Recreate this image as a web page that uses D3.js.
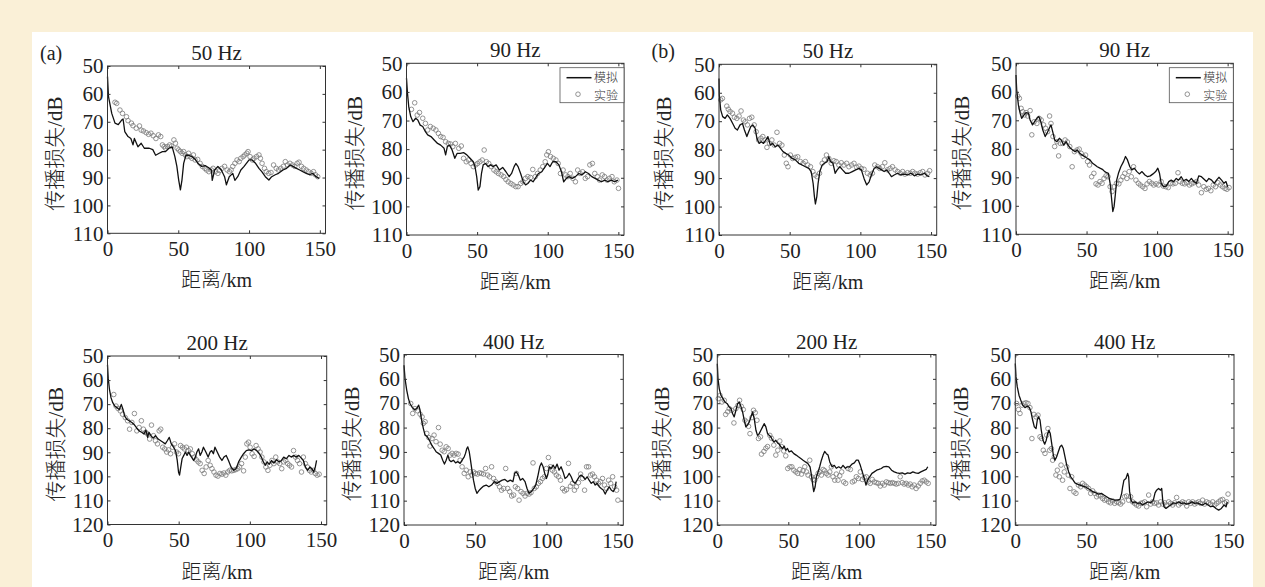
<!DOCTYPE html>
<html>
<head>
<meta charset="utf-8">
<script src="https://cdn.jsdelivr.net/npm/d3@7"></script>
<style>
  body { margin: 0; background: #faf0d7; }
  svg { display: block; }
</style>
</head>
<body>
<svg id="chart" width="1265" height="587"></svg>
<script>
// tick labels
const xTicks = [0, 50, 100, 150];
const yTicksTop = [50, 60, 70, 80, 90, 100, 110];
const yTicksBottom = [50, 60, 70, 80, 90, 100, 110, 120];
const legendNames = ["模拟", "实验"];

// (a) 50 Hz  [distance km, loss dB]
const simA50 = [[0,53.8],[0.7,61],[3,67],[5.3,70.5],[7.6,71],[10,69.4],[11,69],[12.2,73.5],[14.5,75.3],[16.5,76],[18,78.3],[19,76],[21.5,79],[23.8,77.7],[26,79.5],[29.5,79.5],[32,80],[34,82],[36.5,81.3],[38.8,80.7],[41,80.7],[43.4,79.5],[45.7,79],[47.6,82.5],[49,86],[50.3,90.9],[51.5,94.4],[52.6,90.9],[53.8,84.9],[55.4,82],[57.3,82],[59.6,82.5],[62,83.5],[64,85],[66.5,86],[69,85.7],[71.5,86.5],[73.4,87.3],[74,91],[75.7,87.3],[78,86],[80.4,87.3],[82.7,89.7],[84,92.6],[86,89.7],[88.5,88.5],[90,91],[92,89.7],[94.2,87.3],[96.5,86],[100,83.7],[102,83.7],[104.6,84.9],[107,86.7],[109,87.9],[111.5,89.7],[114,90.9],[116,89.7],[118.5,89],[120.8,88.5],[124,87.3],[126.5,86.7],[129,85.5],[131,86],[133.5,86.7],[135.8,87.3],[138,87.9],[140.4,88.5],[142.7,89],[145,88.5],[147.3,89.7],[149.5,90.3]];
const expA50 = [[5.3,63],[6.5,63.4],[8.8,65.8],[10.6,67],[13.4,68.2],[14.5,69.6],[16.9,70.5],[18,71.4],[20.3,72.3],[22.6,71.5],[23.8,73],[25.4,73.3],[27.3,73.9],[29,74.5],[30.7,74.1],[32.3,75],[34.2,76],[36,74.7],[37.6,75.3],[38.8,78.3],[40,78.9],[41,79.5],[42.3,78.9],[43.9,78.3],[45.3,78.7],[46.9,76.5],[48,77.7],[49.2,79.5],[50.3,80.1],[51.5,80.7],[52.7,81.3],[53.8,80.7],[55,81.9],[56.1,82.5],[57.3,81.3],[58.4,82.5],[59.6,83.1],[60.7,81.9],[61.9,83.7],[63.7,83.5],[65.4,84.9],[67,86],[68.8,86.7],[70,87.3],[71.6,87.9],[73.4,87.3],[74.6,86.7],[76.2,87.9],[78,88.5],[79.2,87.5],[80.8,86.7],[82.7,86],[84.5,87.3],[86.1,87.9],[87.3,87.3],[88.5,86],[90,84.9],[91.5,83.7],[93,84.3],[94.2,83.1],[95.8,82.5],[97,81.9],[98.4,81.3],[99.3,80.7],[100.7,82.5],[102.4,83.7],[103.5,83.1],[105.3,82.5],[107,81.9],[108,83.1],[109.2,84.9],[110.9,86.7],[112.2,87.9],[113.9,88.5],[115.5,88.2],[117.3,85.5],[119.2,86.7],[120.8,87.3],[122.4,86.7],[124.2,86],[125.6,84.3],[127.2,85.5],[128.9,84.9],[130.7,85.5],[132.3,86],[134,84.9],[135.3,84.5],[137,86],[138.6,86.7],[140.4,87.3],[142,87.9],[143.9,88.5],[145.5,87.9],[146.9,89],[148.5,89.7]];

// (a) 90 Hz
const simA90 = [[0,55.2],[0.7,60.5],[1.6,65.2],[3,68.6],[4.6,70.4],[6.5,69.2],[8,69.8],[9.7,71.6],[11.5,72.1],[13.4,73.9],[15,75],[17.3,75.6],[19.6,76.8],[22,78],[24.2,78.6],[26.6,79.7],[27.7,82],[28.9,79.1],[30.5,78.6],[32.3,80.3],[34.2,83.2],[35.8,81.5],[38,81.5],[40.4,81.2],[42.7,82],[45,83.2],[47.3,84.4],[48.5,86.1],[49.7,89.6],[50.8,94.3],[52,93.1],[53.1,88.5],[54.3,85.5],[55.9,85],[57.7,86.1],[59.6,85.5],[61.2,86.1],[63.5,85.5],[65.8,87.3],[68.1,86.4],[70.4,87.9],[72.7,89.6],[74.4,88.5],[76.2,86.1],[77.4,85],[79,86.1],[80.8,88.5],[82.7,91.4],[84.3,92.5],[85.9,92],[87.8,90.8],[89.6,91.4],[91.2,90.2],[93.5,88.5],[95.8,87.9],[98.2,86.1],[99.8,85],[101.6,86.1],[103.5,84.4],[105.8,84.4],[107.9,85.5],[109.7,87.9],[111.3,91.4],[113.2,90.2],[115,89.6],[117.3,90.2],[119.6,89.6],[122,88.5],[124.2,89],[126.6,87.9],[128.9,88.5],[131.2,89.6],[133.5,90.2],[135.8,90.8],[138.1,91.4],[140.4,90.8],[142.7,91.4],[145,90.8],[147.3,91.4],[149.7,90.8]];
const expA90 = [[3.5,66.1],[5.8,63.8],[7.6,68.1],[9.2,67.2],[11.5,69.2],[13.4,71],[15,73.3],[16.9,72.1],[18.9,72.7],[20.8,73.3],[22.6,74.5],[24.2,75.6],[25.9,75.9],[27.7,77.4],[29.6,78],[31.2,78.2],[32.8,79.1],[34.6,78],[37,79.7],[38.8,78.9],[40.4,83.2],[42.3,84.4],[43.9,83.8],[45.7,85],[47.3,86.1],[49,85.5],[50.3,85],[52,84.4],[53.6,83.8],[55,80.3],[56.6,84.4],[58.2,85],[60,86.1],[61.9,87.3],[63.5,87.9],[65.1,88.5],[67,89],[68.8,89.6],[70.4,90.6],[72,91.4],[73.9,92],[75.5,92.5],[77.4,93.1],[79,93.1],[80.8,92],[82.4,91.4],[84.3,90.2],[85.9,89.6],[87.8,89.9],[89.4,87.1],[91.2,89.6],[92.8,88.5],[94.7,87.3],[96.5,86.1],[98.2,84.4],[99.3,82],[100.5,80.9],[102,82.6],[103.9,83.2],[105.8,83.8],[107.4,85],[109,88.5],[110.9,87.3],[112.7,89],[114.3,89.6],[115.9,88.5],[117.8,90.2],[119.6,91.4],[121.2,87.3],[122.9,88.5],[124.7,87.9],[126.6,90.2],[128.2,89.6],[129.8,85.5],[131.6,85],[133.3,88.5],[135.1,89.6],[136.7,90.8],[138.6,89],[140.2,89.6],[142,90.8],[143.6,90.2],[145.5,89.6],[147.1,91.4],[149,90.8],[150.1,93.7]];

// (b) 50 Hz
const simB50 = [[0,55],[0.2,60.8],[1.2,66],[2.6,68.4],[4.3,69],[5.9,67.8],[7.8,69],[9.7,70.8],[11.4,72.5],[13,73.1],[14.9,71.3],[16.6,70.8],[18,73.1],[19.7,75.4],[21,73.7],[22.5,71.9],[23.9,71.3],[25.6,72.5],[26.8,76],[28.4,77.8],[29.9,77.2],[31.5,77.8],[33.2,76.6],[34.6,75.4],[36.3,78.4],[37.9,77.8],[39.8,79],[41.7,78.4],[43.4,79.5],[45.3,80.7],[47.2,81.3],[49.3,81.9],[51.7,83.1],[54,83.6],[56.4,84.8],[58.8,85.4],[61.1,86],[63.5,86.6],[65.2,87.7],[66.6,91.9],[67.5,96.5],[68.2,99.1],[69.2,96.5],[70.1,91.9],[71.3,87.7],[73,85.4],[74.6,84.8],[76.5,84.2],[77.7,82.5],[78.9,84.2],[80.6,84.8],[82.2,88.3],[83.6,87.1],[85.5,86],[87.4,87.1],[89.6,88.3],[91.9,88.3],[94.3,87.7],[96.7,87.1],[99,86.6],[100.7,87.1],[102.6,90.1],[104.5,92.4],[106.2,91.3],[107.8,88.9],[109.7,86.6],[111.6,86],[113.3,86.6],[115,87.1],[116.8,87.7],[118.7,87.1],[120.4,88.3],[122,89.5],[123.9,88.9],[126.3,88.3],[128.7,88.9],[131,88.6],[133.4,88.9],[135.8,88.3],[138.2,89.2],[140.5,88.6],[142.9,88.9],[145.3,88.3],[147.2,89.2],[148.8,89.5]];
const expB50 = [[1.2,62.5],[2.4,62],[5.5,64.7],[6.6,65.8],[7.8,66.6],[9.5,67.2],[10.9,68.6],[12.6,69],[14.2,68.2],[15.6,66.4],[17.3,69.6],[18.5,70.2],[20.1,71.3],[21.6,69],[23.2,68.6],[24.9,71.3],[26.3,73.7],[28,76.6],[29.6,76],[31,75.4],[32.7,76.6],[33.9,79.2],[35.8,77.8],[37.4,76.6],[39.1,78.4],[41,73.9],[42.9,77.8],[44.5,78.4],[46.2,81.9],[47.6,84.8],[48.8,86],[50.5,81.9],[52.1,83.1],[54,82.7],[55.7,82.5],[57.6,84.2],[59.5,84.8],[61.1,84.2],[62.8,85.4],[64.7,86],[66.4,87.7],[67.8,88.9],[69.4,89.5],[71.1,88.3],[73,84.8],[74.6,83.6],[76,81.9],[77.7,83.1],[79.4,84.8],[81.3,83.9],[82.9,84.2],[84.8,85.4],[86.5,84.6],[88.4,85.4],[90.3,84.8],[91.9,86],[93.8,85.4],[95.5,84.8],[97.4,86.2],[99,85.8],[100.7,86.6],[102.6,86.9],[105,88.3],[106.9,88.9],[108.5,88.3],[110.2,85.4],[112.1,86],[113.7,86.6],[115.6,86],[117.3,84.6],[119.2,87.1],[121,86.6],[122.7,86],[124.6,87.1],[126.3,87.7],[128.2,88.3],[129.9,87.7],[131.5,88.6],[133.4,88.1],[135.3,88.3],[137,87.7],[138.6,88.3],[140.5,88.6],[142.4,88.1],[144.1,87.7],[145.7,88.9],[147.6,88.3],[149,87.4]];

// (b) 90 Hz
const simB90 = [[0,54.1],[0.5,59.4],[1.7,64.6],[2.9,67.5],[4,69.3],[5.7,68.1],[7.1,67.3],[8.8,67.5],[10,69.9],[11.7,71.6],[13.1,70.5],[14.8,69.3],[16.2,68.7],[17.6,70.5],[19,73.4],[20.7,75.7],[21.9,74.6],[23.6,72.8],[24.8,71.6],[26,74],[27.4,76.9],[29,77.5],[30.7,76.3],[32.1,76.9],[33.8,78.7],[35.5,77.5],[36.9,78.7],[38.6,79.8],[40.2,80.4],[41.9,81],[43.3,80.4],[45.2,81.6],[46.9,82.2],[48.6,82.7],[50.5,83.3],[52.4,83.9],[54.3,85.1],[56,85.7],[57.6,86.3],[59.5,86.8],[61.2,87.2],[62.9,88],[64.3,88.4],[65.5,88.6],[66.7,92.1],[67.6,96.8],[68.6,102],[69.5,100.3],[70.5,95.6],[71.4,90.9],[72.6,88.6],[74.3,86.3],[76.2,84.5],[77.6,82.7],[79,83.9],[80.7,86.3],[82.1,87.4],[83.8,86.8],[85.7,88],[87.4,88.8],[89.3,88],[91.4,89.2],[93.3,89.8],[95.2,89.5],[97.1,88.8],[99,88],[100.5,86.8],[101.7,88.6],[102.9,92.1],[104.5,93.3],[106.4,93.1],[108.3,91.5],[110,91],[111.7,91.5],[113.6,90.4],[115.2,91],[117.1,89.8],[118.8,91.2],[120.7,90.7],[122.4,91.5],[124.3,90.4],[126,91.5],[127.9,92.1],[129.5,89.5],[131.4,89.8],[133.3,90.7],[135,91.5],[136.7,90.4],[138.6,91],[140.5,92.1],[142.1,91],[143.8,90],[145.7,91],[147.4,92.1],[148.8,91.5],[150,93.3]];
const expB90 = [[1.2,61.5],[2.4,62.3],[3.6,65.8],[4.8,67],[6,68.1],[7.1,67.3],[8.3,68.5],[10,66.6],[11.2,75.1],[12.9,70.5],[14.8,71.1],[16.4,69.3],[17.9,69.9],[19.5,71.6],[21,72.8],[22.4,74],[23.8,68.5],[24.8,71.1],[26.2,75.7],[27.4,79.2],[29,77.5],[30.2,82.5],[31.4,78.1],[33.1,78.1],[34.8,76.9],[36.4,77.6],[38.1,79.2],[39.8,86.3],[41.4,81],[43.3,80.4],[44.8,80.1],[46.2,81.6],[47.6,82.7],[49.3,82.2],[50.7,84.5],[52.1,85.7],[53.6,89.8],[55.2,88.6],[56.7,92.3],[58.1,92.7],[59.5,91.5],[61,92.1],[62.4,90.4],[63.8,89.5],[65.2,89.8],[66.7,93.3],[68.1,95],[69.5,93.3],[71.2,92.1],[72.9,92.3],[74.3,91],[75.7,89.8],[77.1,88.6],[78.6,90.4],[80.2,88],[81.7,89.8],[83.3,86.3],[85,91],[86.7,92.1],[88.1,92.7],[89.8,93.3],[91.4,93.9],[92.9,92.3],[94.5,91.5],[96.2,92.1],[97.6,92.7],[99.3,92.3],[101,92.7],[102.9,91.5],[104.5,93.1],[106.2,93.3],[107.9,93.6],[109.5,92.1],[111.2,92.3],[112.9,92.1],[114.8,88.4],[116.2,91.5],[117.9,92.1],[119.5,92.3],[121.2,91.9],[122.9,92.7],[124.5,92.3],[126.2,91.9],[127.9,91.5],[129.5,92.7],[131.4,95.4],[133.1,93.3],[134.8,94.2],[136.4,93.9],[138.1,94.7],[139.8,92.7],[141.4,93.3],[143.1,91.9],[144.8,92.7],[146.4,93.3],[148.1,93.9],[149.5,94.2],[151,93.6]];

// (a) 200 Hz
const simA200 = [[0,53.7],[0.5,59.2],[1.4,64],[2.5,67.4],[3.7,69.4],[5.1,70.8],[6.7,71.5],[8.3,72.2],[9.7,70.1],[10.9,72.2],[12,74.9],[13.6,76.3],[15.2,76.9],[17.1,77.6],[18.9,78.6],[20.6,80],[22.2,81.1],[24,81.7],[25.6,82.4],[27,80.8],[28.2,83.8],[29.1,81.7],[30.5,83.1],[32.1,84.1],[33.7,83.1],[35.6,84.5],[37.4,85.2],[39,85.8],[40.6,86.5],[42,85.2],[43.4,83.8],[44.8,86.5],[46.4,87.9],[47.8,89.3],[49,93.4],[49.9,98.2],[50.6,99.5],[51.5,96.1],[52.4,92.7],[53.6,91.3],[54.7,89.9],[55.9,91.3],[57,89.9],[58.2,91.3],[59.4,92.3],[60.5,93.4],[61.7,92],[62.8,89.9],[64,88.6],[65.1,91.3],[66.3,89.9],[67.4,87.9],[69.1,89.9],[70.7,92],[72.1,89.9],[73.2,89.3],[74.4,90.6],[75.5,87.9],[77.1,89.9],[78.8,92],[80.4,93.4],[81.8,92],[83.4,91.3],[85,93.4],[86.8,96.1],[88.7,97.5],[90.3,96.8],[92.1,94],[94,92],[95.6,90.6],[97.5,89.3],[99.3,89],[101.2,89.3],[103,88.6],[104.8,89.3],[106.5,90.4],[108.1,92],[109.5,94],[110.9,95.4],[112.2,94],[113.6,95],[115.2,93.4],[116.9,94.5],[118.7,93.1],[120.6,94],[122.2,93.4],[123.8,92],[125.6,92.7],[127.5,91.3],[129.1,92],[130.9,91.3],[132.6,92],[134.4,91.3],[136,92.3],[137.6,93.4],[139,96.1],[140.6,97.5],[142.3,96.1],[143.6,96.8],[144.8,98.2],[146,96.1],[146.9,93.4]];
const expA200 = [[4.4,66],[6,70.8],[7.4,71.8],[9,72.8],[10.6,74.2],[12.5,75.6],[14.1,76.9],[15.5,80.4],[17.1,77.6],[18.9,73.9],[20.6,81.1],[22.2,79.7],[23.8,76.9],[25.2,80.4],[26.8,81.7],[28.2,82.4],[29.6,84.5],[30.9,78.7],[32.3,83.1],[33.7,85.2],[35.1,86.5],[36.3,81.1],[37.4,80.4],[38.8,87.9],[40.2,88.6],[41.6,89.9],[42.9,89],[44.3,90.6],[45.7,87.9],[47.1,86.5],[48.5,89.9],[49.9,90.6],[51.3,87.2],[52.7,87.9],[54,88.6],[55.4,87.9],[56.8,89.3],[58.2,88.6],[59.6,90.6],[61,92],[62.4,93.1],[63.7,94],[65.1,94.7],[66.5,97.5],[67.9,98.8],[69.3,96.1],[70.7,93.4],[72.1,95.4],[73.4,96.8],[74.8,98.2],[76.2,99.5],[77.6,99.9],[79,98.8],[80.4,99.1],[81.8,98.6],[83.1,99.5],[84.5,98.2],[85.9,97.5],[87.3,97.7],[88.7,97.5],[90.1,97.2],[91.5,96.8],[92.8,96.1],[94.2,94.7],[95.6,97.7],[96.8,92],[97.9,86.5],[99.1,85.8],[100.2,87.9],[101.6,90.6],[103,91.7],[104.4,87.2],[105.8,88.6],[107.2,89.9],[108.5,92],[109.9,94],[111.3,96.1],[112.7,97.5],[114.1,95.4],[115.5,93.4],[116.9,94.7],[118.2,92],[119.6,94],[121,94.7],[122.4,96.8],[123.8,94],[125.2,93.4],[126.6,94.7],[127.9,95.4],[129.3,96.1],[130.7,89.3],[132.1,92],[133.5,93.4],[134.9,94.7],[136.3,98.2],[137.6,92],[139,94.7],[140.4,96.1],[141.8,97.5],[143.2,98.2],[144.6,97.5],[146,98.8],[147.3,99.5],[148.7,99.1]];

// (a) 400 Hz
const simA400 = [[0,54.4],[0.7,59.8],[1.9,64.6],[3.1,68.1],[4.2,70.1],[5.9,71.8],[7.3,72.6],[8.9,72.2],[10.3,70.8],[11.3,72.9],[12.4,77],[13.6,80.4],[14.8,83.1],[16.4,83.8],[17.8,85.2],[19.5,87.2],[21.1,88.6],[22.5,89.9],[24.2,90.6],[25.8,91.3],[27.2,93.4],[28.4,95],[29.6,93.4],[30.8,91.3],[31.9,93.4],[33.1,94],[34.7,93.4],[36.2,94.5],[37.8,94],[39.4,94.7],[40.8,93.4],[42.3,92],[43.2,90.6],[44.1,88.6],[44.8,87.9],[45.8,89.9],[46.7,93.4],[47.7,97.5],[48.8,101.6],[50,105],[51.2,107],[52.6,105.9],[54,105],[55.9,104],[57.7,103.6],[59.6,104.3],[61.5,103.6],[63.4,102.2],[65.3,102.9],[67.1,102.2],[69,101.6],[70.9,101.3],[72.8,102.2],[74.6,101.6],[76.5,102.2],[77.7,98.8],[78.9,98.2],[80.3,99.5],[81.7,101.6],[83.3,100.9],[85,102.2],[86.4,105],[87.8,107],[89.4,106.3],[91.1,105],[92.5,103.6],[93.9,100.2],[95.3,96.1],[96.5,94.5],[97.7,96.1],[98.8,98.8],[100,100.9],[100.9,99.5],[102.1,96.1],[103.3,96.8],[104.7,95.4],[106.1,96.8],[107.5,95],[108.9,97.5],[110.3,96.1],[111.7,98.2],[113.1,100.9],[114.6,100.2],[116,98.8],[117.4,100.2],[118.8,102.2],[120.2,102.9],[121.6,101.6],[123,100.2],[124.4,99.5],[125.8,100.2],[127.2,101.3],[128.6,100.2],[130,101.6],[131.5,102.9],[132.9,102.2],[134.3,103.6],[135.7,102.9],[137.1,104.3],[138.5,105],[139.9,105.6],[141.3,107.3],[142.7,105.6],[144.1,104.3],[145.5,105.6],[146.9,106.3],[148.1,105],[149,102.2]];
const expA400 = [[4.7,70.1],[6.1,74.2],[7.7,72.2],[9.4,73.1],[11.3,74.5],[12.7,75.6],[13.6,78.3],[14.8,77.6],[16,82.4],[17.4,84.1],[18.3,87.6],[19.7,84.5],[21.1,83.1],[22.5,85.8],[24.2,80],[25.4,86.8],[26.8,89.3],[28.2,89.9],[29.6,87.9],[31,88.6],[32.4,91.3],[33.8,90.6],[35.2,91.3],[36.6,90.6],[38,90.9],[39.4,93.4],[40.8,96.1],[42.3,98.8],[43.7,97.5],[45.1,100.2],[46.5,98.2],[47.7,99.5],[48.8,98.2],[50.2,98.8],[51.6,99.1],[53.1,98.6],[54.5,98.8],[55.9,99.1],[57.3,96.8],[58.7,99.5],[60.1,100.2],[61.5,96.1],[62.9,100.9],[64.3,102.2],[65.7,102.9],[67.1,104.3],[68.5,105.7],[70,105],[71.4,96.8],[72.8,105],[74.2,106.3],[75.6,108.1],[77,107.7],[78.2,104.3],[78.9,98.8],[79.8,105],[80.8,109.8],[82.2,106.3],[83.6,107],[85,108.1],[86.4,107],[87.8,107.3],[89.2,106.7],[90.6,94.5],[91.5,105],[92.9,104.3],[94.4,102.9],[95.8,102.2],[97.2,100.9],[98.6,100.2],[100,96.8],[101.4,92.3],[102.8,96.1],[104.2,97.5],[105.6,98.2],[107,99.5],[108.5,100.2],[109.9,101.6],[111.3,105],[112.7,106],[114.1,105.5],[115.5,94.7],[116.9,104.1],[118.3,102.9],[119.7,105.7],[121.1,104.3],[122.5,102.6],[124,99.1],[125.4,100.9],[126.8,105.7],[128.2,96.1],[129.6,96.1],[131,99.5],[132.4,99.1],[133.8,100.2],[135.2,101.6],[136.6,102.9],[138,102.2],[139.4,100.9],[140.8,103.6],[142.3,105],[143.7,101.6],[145.1,102.9],[146.5,100.2],[147.9,104.3],[149.3,105.7],[150.2,109.8]];

// (b) 200 Hz
const simB200 = [[0,53.8],[0.5,60],[1.4,64.1],[2.6,66.8],[4,68.1],[5.4,69.5],[7,70.2],[8.4,71.6],[9.6,72.2],[10.8,74.3],[11.9,75.6],[13.1,72.9],[14.3,70.2],[15.5,69.5],[16.6,71.3],[17.8,73.6],[19,77],[20.1,79.7],[21.3,79],[22.5,77.7],[23.7,75.6],[24.8,73.6],[26,76.3],[27.2,81.1],[28.3,83.2],[29.5,82.5],[30.7,81.1],[31.9,79.7],[33,78.4],[34.2,79.7],[35.4,82.5],[36.5,83.2],[37.7,83.8],[38.9,85.2],[40,85.9],[41.2,85.2],[42.4,86.3],[43.6,86.8],[44.7,87.9],[45.9,88.6],[47.1,87.6],[48.2,89.3],[49.4,88.6],[50.6,90],[52.2,89.6],[53.9,90.7],[55.5,91.3],[57.1,92],[58.8,92.7],[60.4,93.4],[62.1,94.1],[63.7,94.7],[65.3,96.1],[66.3,99.5],[67.2,103.6],[67.9,106.3],[68.9,104.3],[69.8,100.2],[71,98.2],[72.1,96.1],[73.3,93.4],[74.5,91.3],[75.6,89.8],[76.8,90.7],[78,91.3],[79.2,94.1],[80.8,96.1],[82.4,95.5],[83.8,96.7],[85.5,96.1],[87.1,96.7],[88.5,95.5],[90.2,96.7],[91.8,96.1],[93.2,96.1],[94.8,95],[96.5,94.5],[97.9,93.4],[99.3,93.4],[100.7,95.5],[102.1,98.2],[103.5,100.9],[104.7,103.6],[105.9,101.6],[107.3,100.2],[108.9,98.8],[110.5,98.2],[112.2,97.5],[113.8,97.2],[115.5,96.8],[117.1,96.1],[119,95.9],[120.8,96.1],[122.7,97.5],[124.6,98.2],[126.5,98.6],[128.3,98.8],[130.2,98.6],[132.1,99.1],[134,98.6],[135.8,98.8],[137.7,98.2],[139.6,98.6],[141.5,98.8],[143.3,98.2],[145.2,97.7],[147.1,97.2],[148.2,96.1]];
const expB200 = [[0.7,68.1],[1.9,66.8],[3.3,69.5],[4.9,68.8],[5.9,74.6],[7.3,73.5],[8.4,72.2],[10.1,72.9],[11.7,78.1],[13.1,72.2],[14.5,70.9],[15.7,68.8],[16.9,71.3],[18.3,72.6],[19.4,77],[20.6,77.7],[22,79.5],[23,82.5],[24.4,75.9],[25.5,72.9],[26.7,73.9],[27.9,77],[29,84.5],[30.4,83.8],[31.1,90.9],[32.8,89.8],[34.2,88.5],[35.4,87.8],[37,83.2],[38.2,84.4],[39.8,87.2],[41.2,91.3],[42.6,89.3],[44,85.5],[45.2,87.8],[46.8,89.6],[48.2,91.6],[49.6,96.8],[51.1,96.1],[52.5,96.1],[53.9,97.5],[55.3,98.2],[56.7,98.8],[58.1,97.2],[59.3,99.1],[60.4,97.7],[61.6,96.1],[62.8,98.2],[63.9,99.5],[65.1,93.4],[66.3,100.2],[67.4,101.3],[68.6,101.6],[69.8,100.2],[71,98.8],[72.1,98.2],[73.3,99.5],[74.5,97.2],[75.6,97.7],[76.8,98.8],[78,99.5],[79.2,98.2],[80.3,96.1],[81.5,100.2],[82.7,101.6],[83.8,99.1],[85,101.6],[86.2,99.8],[87.6,98.2],[89,102.3],[90.4,102.9],[92,96.8],[93.7,97.2],[95.1,102.3],[96.5,101.9],[97.9,100.2],[99.3,100.9],[100.7,98.2],[102.1,101.3],[103.5,100.5],[104.9,100.2],[106.3,102.3],[107.7,102.9],[109.1,101.3],[110.5,102.3],[111.9,102.6],[113.3,102.9],[114.8,104],[116.2,102.9],[117.6,103.6],[119,102.3],[120.4,102.6],[121.8,102.9],[123.2,102.6],[124.6,102.9],[126,103.2],[127.4,102.9],[128.8,100.2],[130.2,102.6],[131.6,103.2],[133,102.9],[134.4,103.6],[135.8,103.2],[137.2,104.3],[138.6,103.6],[140,105],[141.5,104],[142.9,102.9],[144.3,101.9],[145.7,101.6],[147.1,102.3],[148.5,102.9]];

// (b) 400 Hz
const simB400 = [[0,53.7],[0.5,59.2],[1.4,63.3],[2.6,66.7],[3.8,68.7],[5.2,70.8],[6.8,71.8],[8.5,71.2],[9.9,71.8],[11,73.5],[12.2,76.9],[13.4,79.7],[14.6,80.4],[15.5,76.9],[16.4,75.6],[17.4,76.9],[18.3,81.1],[19.5,85.2],[20.7,86.8],[21.8,85.2],[22.8,82.4],[23.7,81.1],[24.6,82.4],[25.8,87.2],[26.8,91.3],[27.9,93.4],[29.1,92],[30.3,89.9],[31.5,87.9],[32.6,87.2],[33.8,88.6],[35,92],[36.2,95.4],[37.6,98.2],[39,100.2],[40.4,101.3],[42,102.7],[43.7,103.2],[45.5,103.6],[47.4,104],[49.3,104.3],[51.2,105],[53.1,105.7],[54.9,106.4],[56.8,106.8],[58.7,107.3],[60.6,107],[62.4,107.7],[64.3,108.4],[66.2,109.1],[68.1,109.5],[70,109.8],[71.8,109.8],[73.7,109.5],[74.9,107],[75.6,104.3],[76.5,101.6],[77.9,100.9],[79.1,98.8],[79.8,100.2],[80.5,106.3],[81.5,109.8],[82.6,110.9],[84.3,110.5],[85.9,111.1],[87.8,110.9],[89.7,111.8],[91.5,111.1],[93.4,110.5],[95.3,110.9],[97.2,109.8],[98.4,106.8],[99.5,105.7],[100.9,105],[102.3,105.7],[103.1,105],[103.8,109.8],[104.7,112.5],[106.1,113.2],[107.7,112.5],[109.4,111.8],[111.3,110.9],[113.1,111.1],[115,110.5],[116.9,111.1],[118.8,110.9],[120.7,111.4],[122.5,111.1],[124.4,110.5],[126.3,111.1],[128.2,110.9],[130,111.4],[131.9,111.8],[133.8,111.1],[135.7,111.8],[137.6,112.5],[139.4,112.2],[141.3,113.2],[143.2,113.9],[145.1,113.2],[147,111.8],[148.4,112.5],[149.3,110.5]];
const expB400 = [[0.9,70.1],[2.3,72.6],[3.3,74.2],[4.7,70.8],[6.1,70.1],[7.5,69.8],[8.9,70.1],[10.3,71.8],[11.7,84.5],[13.1,74.6],[14.6,75.6],[16,74.9],[17.4,83.8],[18.5,84.5],[19.7,89.3],[20.9,90.6],[22.1,83.1],[23,80.4],[24.2,89.3],[25.4,88.6],[26.3,93.4],[27.5,92],[28.6,99.5],[29.6,97.5],[31,100.2],[32.2,95.4],[33.3,101.6],[34.5,98.2],[36.2,96.1],[37.3,99.5],[38.5,105],[39.7,100.2],[41.3,106.4],[42.7,107],[44.4,103.6],[46,104.3],[47.4,102.9],[48.8,103.6],[50.2,104.3],[51.6,105],[53.1,107],[54.5,106],[55.9,107],[57.3,108.4],[58.7,107.7],[60.1,108.1],[61.5,109.1],[62.9,109.8],[64.3,109.5],[65.7,110.5],[67.1,110.9],[68.5,110.1],[70,111.1],[71.4,110.5],[72.8,110.9],[74.2,111.4],[75.6,110.5],[77,108.4],[78.4,108.1],[79.8,109.8],[81.2,108.4],[82.6,110.5],[84,111.1],[85.4,111.8],[86.9,112.2],[88.3,111.1],[89.7,110.9],[91.1,110.5],[92.5,112.5],[93.9,107.7],[95.3,111.4],[96.7,110.5],[98.1,111.1],[99.5,110.9],[100.9,111.8],[102.3,110.5],[103.8,111.4],[105.2,110.9],[106.6,111.8],[108,110.5],[109.4,111.1],[110.8,111.8],[112.2,110.9],[113.6,108.7],[115,111.8],[116.4,111.1],[117.8,110.5],[119.2,110.9],[120.7,112.2],[122.1,110.5],[123.5,111.1],[124.9,110.5],[126.3,111.4],[127.7,110.9],[129.1,110.5],[130.5,111.1],[131.9,109.8],[133.3,111.4],[134.7,110.5],[136.2,110.9],[137.6,111.4],[139,110.5],[140.4,111.8],[141.8,111.1],[143.2,110.5],[144.6,109.8],[146,109.5],[147.4,110.9],[148.8,110.5],[149.8,107.3]];

const panels = [
  { title: "50 Hz",  sim: simA50,  exp: expA50,  yTicks: yTicksTop,    box: [107.5, 66, 325.5, 233.3], ylab: -53, tag: "(a)" },
  { title: "90 Hz",  sim: simA90,  exp: expA90,  yTicks: yTicksTop,    box: [406.5, 63.3, 624, 235],   ylab: -52, legend: true },
  { title: "50 Hz",  sim: simB50,  exp: expB50,  yTicks: yTicksTop,    box: [719, 64.3, 936.7, 235],   ylab: -55, tag: "(b)" },
  { title: "90 Hz",  sim: simB90,  exp: expB90,  yTicks: yTicksTop,    box: [1016, 63.3, 1233.3, 234.3], ylab: -54, legend: true },
  { title: "200 Hz", sim: simA200, exp: expA200, yTicks: yTicksBottom, box: [107.5, 356, 326.7, 524.5], ylab: -52 },
  { title: "400 Hz", sim: simA400, exp: expA400, yTicks: yTicksBottom, box: [404, 354.5, 623.3, 525],   ylab: -52 },
  { title: "200 Hz", sim: simB200, exp: expB200, yTicks: yTicksBottom, box: [717.3, 354.5, 936, 525],   ylab: -55 },
  { title: "400 Hz", sim: simB400, exp: expB400, yTicks: yTicksBottom, box: [1015.3, 354.5, 1234, 525], ylab: -54 }
];

const serif = '"Liberation Serif", "Noto Sans CJK SC", serif';
const svg = d3.select("#chart");

svg.append("rect")
  .attr("x", 32).attr("y", 32)
  .attr("width", 1221).attr("height", 560)
  .attr("fill", "#ffffff");

panels.forEach(p => {
  const [l, t, r, b] = p.box;
  const x = d3.scaleLinear().domain([0, 154]).range([l, r]);
  const y = d3.scaleLinear().domain([50, d3.max(p.yTicks)]).range([t, b]);
  const g = svg.append("g");

  // experiment circles
  g.selectAll("circle")
    .data(p.exp)
    .join("circle")
    .attr("cx", d => x(d[0]))
    .attr("cy", d => y(d[1]))
    .attr("r", 2.3)
    .attr("fill", "none")
    .attr("stroke", "#7a7a7a")
    .attr("stroke-width", 0.8);

  // simulation line
  g.append("path")
    .datum(p.sim)
    .attr("d", d3.line().x(d => x(d[0])).y(d => y(d[1])))
    .attr("fill", "none")
    .attr("stroke", "#111")
    .attr("stroke-width", 1.3)
    .attr("stroke-linejoin", "round");

  // axes, ticks pointing inward
  const axB = g.append("g").attr("transform", `translate(0,${b})`)
    .call(d3.axisBottom(x).tickValues(xTicks).tickSize(-3).tickSizeOuter(0).tickPadding(8));
  const axL = g.append("g").attr("transform", `translate(${l},0)`)
    .call(d3.axisLeft(y).tickValues(p.yTicks).tickSize(-3).tickSizeOuter(0).tickPadding(4));
  const axT = g.append("g").attr("transform", `translate(0,${t})`)
    .call(d3.axisTop(x).tickValues(xTicks).tickSize(-3).tickSizeOuter(0).tickFormat(""));
  const axR = g.append("g").attr("transform", `translate(${r},0)`)
    .call(d3.axisRight(y).tickValues(p.yTicks).tickSize(-3).tickSizeOuter(0).tickFormat(""));
  [axB, axL, axT, axR].forEach(a => {
    a.select(".domain").remove();
    a.selectAll(".tick line").attr("stroke", "#333");
    a.selectAll(".tick text")
      .style("font-family", serif)
      .style("font-size", "21px")
      .attr("fill", "#222");
  });

  g.append("rect")
    .attr("x", l).attr("y", t)
    .attr("width", r - l).attr("height", b - t)
    .attr("fill", "none")
    .attr("stroke", "#333")
    .attr("stroke-width", 1);

  // title
  g.append("text")
    .attr("x", (l + r) / 2).attr("y", t - 6)
    .attr("text-anchor", "middle")
    .style("font-family", serif).style("font-size", "21px").attr("fill", "#222")
    .text(p.title);

  // x label
  g.append("text")
    .attr("x", (l + r) / 2).attr("y", b + 54)
    .attr("text-anchor", "middle")
    .style("font-family", serif).style("font-size", "20px").style("font-weight", 300).attr("fill", "#222")
    .text("距离/km");

  // y label
  g.append("text")
    .attr("transform", `translate(${l + p.ylab},${(t + b) / 2 + 4}) rotate(-90)`)
    .attr("text-anchor", "middle")
    .attr("dominant-baseline", "central")
    .style("font-family", serif).style("font-size", "21px").style("font-weight", 300).attr("fill", "#222")
    .text("传播损失/dB");

  if (p.tag) {
    g.append("text")
      .attr("x", l - 67.5).attr("y", t - 6)
      .style("font-family", serif).style("font-size", "20px").attr("fill", "#222")
      .text(p.tag);
  }

  if (p.legend) {
    const lg = g.append("g").attr("transform", `translate(${r - 64},${t + 4.4})`);
    lg.append("rect")
      .attr("width", 64).attr("height", 35)
      .attr("fill", "#fff").attr("stroke", "#555").attr("stroke-width", 0.8);
    lg.append("line")
      .attr("x1", 6.5).attr("x2", 31.5).attr("y1", 10).attr("y2", 10)
      .attr("stroke", "#111").attr("stroke-width", 1.5);
    lg.append("circle")
      .attr("cx", 18).attr("cy", 26.5).attr("r", 2.3)
      .attr("fill", "none").attr("stroke", "#7a7a7a").attr("stroke-width", 0.8);
    lg.selectAll("text.lg")
      .data(legendNames)
      .join("text")
      .attr("class", "lg")
      .attr("x", 34)
      .attr("y", (d, i) => 14.3 + i * 17.6)
      .style("font-family", '"Noto Sans CJK SC", sans-serif').style("font-size", "12px").style("font-weight", 300)
      .attr("fill", "#333")
      .text(d => d);
  }
});
</script>
</body>
</html>
